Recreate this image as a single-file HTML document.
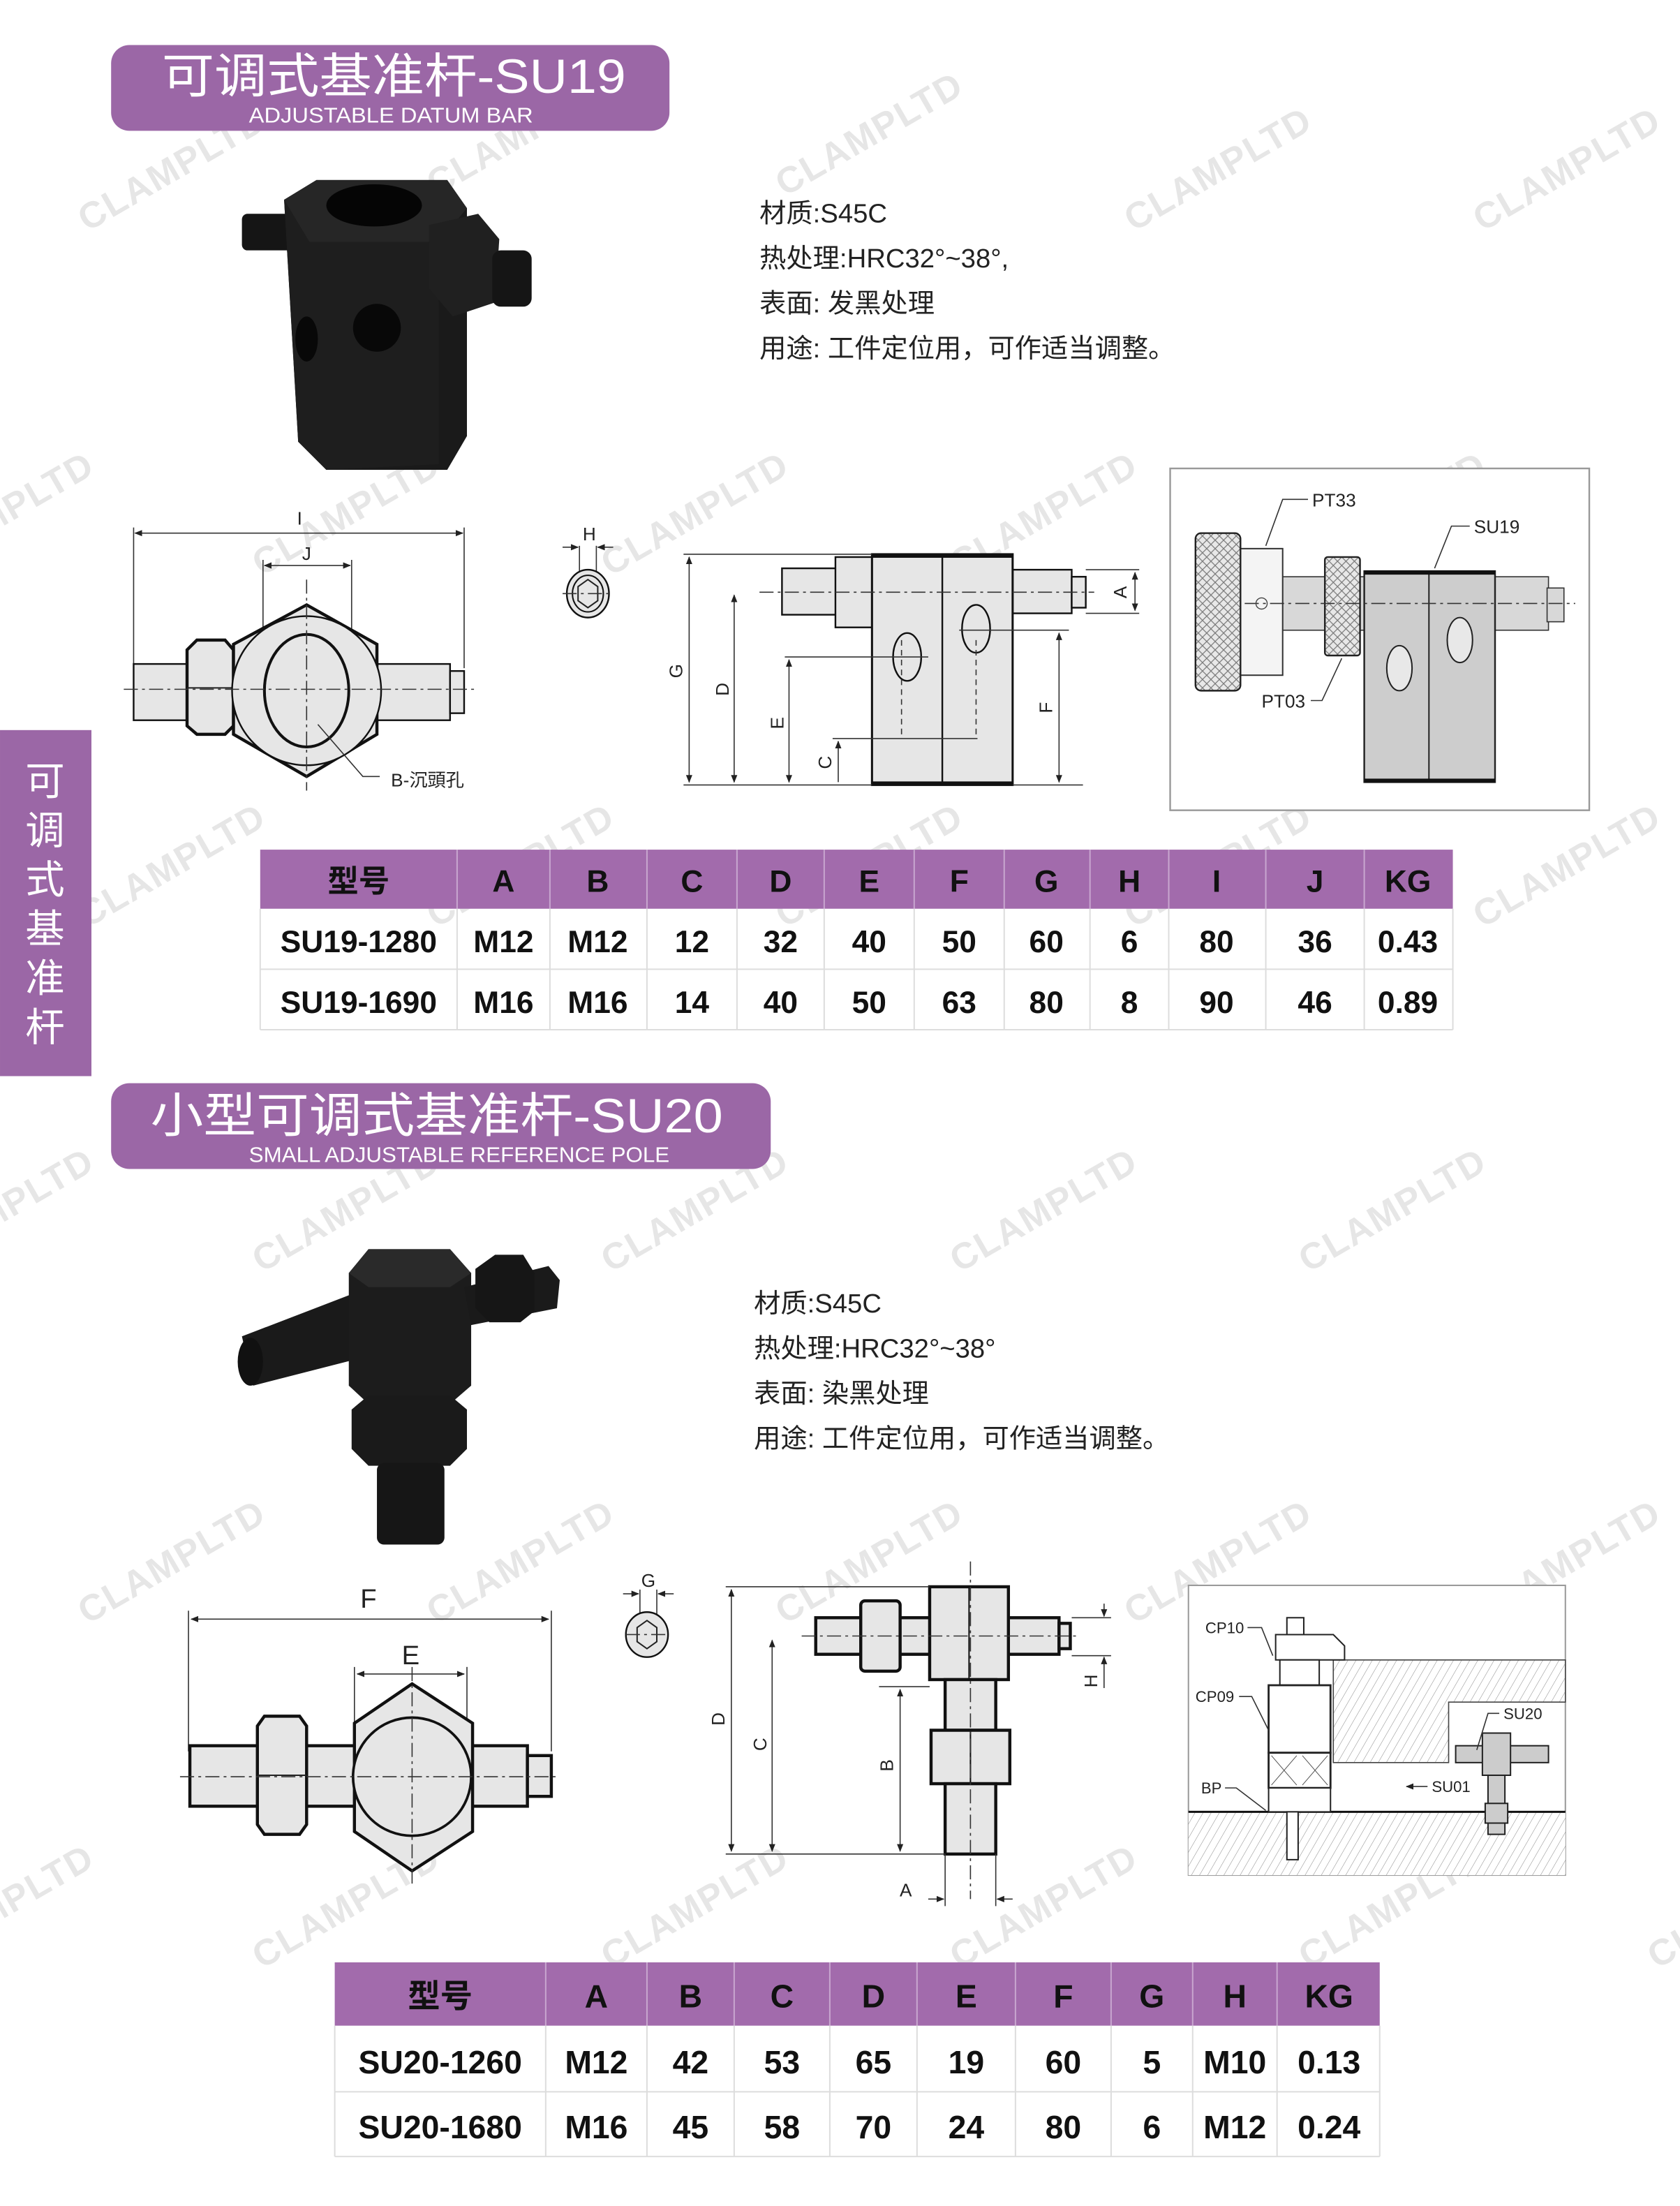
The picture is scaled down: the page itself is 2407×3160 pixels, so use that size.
<!DOCTYPE html>
<html><head><meta charset="utf-8"><style>
html,body{margin:0;padding:0;background:#fff}
svg{display:block}
text{font-family:"Liberation Sans","Noto Sans CJK SC",sans-serif}
.cn{font-family:"Liberation Sans","Noto Sans CJK SC",sans-serif}
.tb{font-family:"Liberation Sans Narrow","Liberation Sans","Noto Sans CJK SC",sans-serif;font-weight:bold}
.wm{font-family:"Liberation Sans",sans-serif;font-weight:bold;font-size:26px;fill:#e6e6e6;letter-spacing:1px}
.ln{stroke:#222;stroke-width:1;fill:none}
.th{stroke:#111;stroke-width:2.2;fill:#e6e6e6}
.pt{stroke:#111;stroke-width:1.2;fill:#e6e6e6}
.cl{stroke:#333;stroke-width:0.8;stroke-dasharray:10 3 2 3;fill:none}
.dm{stroke:#333;stroke-width:0.8;fill:none}
.lb{font-size:13px;fill:#222}
</style></head><body>
<svg width="2407" height="3160" viewBox="0 0 1194.5 1568.2" xmlns="http://www.w3.org/2000/svg">
<defs>
<marker id="ar" viewBox="0 0 10 10" refX="9" refY="5" markerWidth="7" markerHeight="7" orient="auto-start-reverse"><path d="M0,1 L10,5 L0,9 z" fill="#222"/></marker>
<pattern id="knurl" width="6" height="6" patternUnits="userSpaceOnUse"><rect width="6" height="6" fill="#e8e8e8"/><path d="M0,0 L6,6 M6,0 L0,6" stroke="#777" stroke-width="0.6"/></pattern>
<pattern id="hatch" width="5" height="5" patternUnits="userSpaceOnUse" patternTransform="rotate(30)"><rect width="5" height="5" fill="#fff"/><line x1="0" y1="0" x2="0" y2="5" stroke="#888" stroke-width="0.5"/></pattern>
</defs>

<!-- watermarks -->
<g class="wm">
<text transform="translate(62,165) rotate(-30)">CLAMPLTD</text>
<text transform="translate(310,140) rotate(-30)">CLAMPLTD</text>
<text transform="translate(558,140) rotate(-30)">CLAMPLTD</text>
<text transform="translate(806,165) rotate(-30)">CLAMPLTD</text>
<text transform="translate(1054,165) rotate(-30)">CLAMPLTD</text>
<text transform="translate(-60,410) rotate(-30)">CLAMPLTD</text>
<text transform="translate(186,410) rotate(-30)">CLAMPLTD</text>
<text transform="translate(434,410) rotate(-30)">CLAMPLTD</text>
<text transform="translate(682,410) rotate(-30)">CLAMPLTD</text>
<text transform="translate(930,410) rotate(-30)">CLAMPLTD</text>
<text transform="translate(62,660) rotate(-30)">CLAMPLTD</text>
<text transform="translate(310,660) rotate(-30)">CLAMPLTD</text>
<text transform="translate(558,660) rotate(-30)">CLAMPLTD</text>
<text transform="translate(806,660) rotate(-30)">CLAMPLTD</text>
<text transform="translate(1054,660) rotate(-30)">CLAMPLTD</text>
<text transform="translate(-60,905) rotate(-30)">CLAMPLTD</text>
<text transform="translate(186,905) rotate(-30)">CLAMPLTD</text>
<text transform="translate(434,905) rotate(-30)">CLAMPLTD</text>
<text transform="translate(682,905) rotate(-30)">CLAMPLTD</text>
<text transform="translate(930,905) rotate(-30)">CLAMPLTD</text>
<text transform="translate(62,1155) rotate(-30)">CLAMPLTD</text>
<text transform="translate(310,1155) rotate(-30)">CLAMPLTD</text>
<text transform="translate(558,1155) rotate(-30)">CLAMPLTD</text>
<text transform="translate(806,1155) rotate(-30)">CLAMPLTD</text>
<text transform="translate(1054,1155) rotate(-30)">CLAMPLTD</text>
<text transform="translate(-60,1400) rotate(-30)">CLAMPLTD</text>
<text transform="translate(186,1400) rotate(-30)">CLAMPLTD</text>
<text transform="translate(434,1400) rotate(-30)">CLAMPLTD</text>
<text transform="translate(682,1400) rotate(-30)">CLAMPLTD</text>
<text transform="translate(930,1400) rotate(-30)">CLAMPLTD</text>
<text transform="translate(1178,1400) rotate(-30)">CLAMPLTD</text>
</g>

<!-- Header 1 -->
<rect x="79" y="32" width="397" height="61" rx="13" fill="#9b67a6"/>
<text x="115" y="66" fill="#fff" font-size="34" class="cn" textLength="330" lengthAdjust="spacingAndGlyphs">可调式基准杆-SU19</text>
<text x="177" y="87" fill="#fff" font-size="15" textLength="202" lengthAdjust="spacingAndGlyphs">ADJUSTABLE DATUM BAR</text>

<!-- Side tab -->
<rect x="0" y="519" width="65" height="246" fill="#9b67a6"/>
<g fill="#fff" font-size="28" text-anchor="middle" class="cn">
<text x="32" y="565">可</text><text x="32" y="600">调</text><text x="32" y="635">式</text>
<text x="32" y="670">基</text><text x="32" y="705">准</text><text x="32" y="740">杆</text>
</g>

<!-- Photo 1 -->
<g>
<rect x="172" y="152" width="36" height="26" rx="4" fill="#151515"/>
<polygon points="202,142 225,128 318,128 332,148 332,310 318,334 232,334 212,314" fill="#1a1a1a"/>
<polygon points="202,142 225,128 318,128 332,148 312,172 220,172" fill="#262626"/>
<polygon points="220,172 312,172 312,330 232,334 212,314 202,142" fill="#1e1e1e"/>
<ellipse cx="266" cy="146" rx="34" ry="15" fill="#050505"/>
<polygon points="305,160 340,152 355,170 352,215 322,225 305,205" fill="#202020"/>
<rect x="350" y="178" width="28" height="40" rx="6" fill="#151515"/>
<ellipse cx="268" cy="233" rx="17" ry="17" fill="#080808"/>
<ellipse cx="218" cy="241" rx="8" ry="16" fill="#080808"/>
</g>

<!-- Spec text 1 -->
<g font-size="19" fill="#222" class="cn">
<text x="540" y="158">材质:S45C</text>
<text x="540" y="190">热处理:HRC32°~38°,</text>
<text x="540" y="222">表面:  发黑处理</text>
<text x="540" y="254">用途:  工件定位用，可作适当调整。</text>
</g>

<!-- Drawing 1 front -->
<g>
<line class="dm" x1="95" y1="375" x2="95" y2="475"/>
<line class="dm" x1="330" y1="375" x2="330" y2="475"/>
<line class="dm" x1="96" y1="379" x2="329" y2="379" marker-start="url(#ar)" marker-end="url(#ar)"/>
<text x="213" y="373" class="lb" text-anchor="middle">I</text>
<line class="dm" x1="187" y1="398" x2="187" y2="460"/>
<line class="dm" x1="250" y1="398" x2="250" y2="460"/>
<line class="dm" x1="188" y1="402" x2="249" y2="402" marker-start="url(#ar)" marker-end="url(#ar)"/>
<text x="218" y="398" class="lb" text-anchor="middle">J</text>
<rect class="pt" x="95" y="472" width="225" height="40"/>
<rect class="pt" x="320" y="477" width="10" height="30"/>
<polygon class="th" points="133,462 140,455 160,455 166,462 166,516 160,522 140,522 133,516"/>
<line class="ln" x1="133" y1="489" x2="166" y2="489"/>
<polygon class="th" points="218,430 268,458 268,522 218,552 166,522 166,458"/>
<circle cx="218" cy="491" r="53" class="pt" fill="#e6e6e6"/>
<ellipse cx="218" cy="491" rx="30" ry="40" fill="#e6e6e6" stroke="#111" stroke-width="2"/>
<line class="cl" x1="88" y1="490" x2="340" y2="490"/>
<line class="cl" x1="218" y1="412" x2="218" y2="562"/>
<polyline class="dm" points="226,515 258,552 270,552"/>
<text x="278" y="559" font-size="13" fill="#222" class="cn">B-沉頭孔</text>
</g>

<!-- H small view -->
<g>
<line class="dm" x1="412" y1="388" x2="412" y2="430"/>
<line class="dm" x1="424" y1="388" x2="424" y2="430"/>
<line class="dm" x1="400" y1="389" x2="411" y2="389" marker-end="url(#ar)"/>
<line class="dm" x1="436" y1="389" x2="425" y2="389" marker-end="url(#ar)"/>
<text x="419" y="384" class="lb" text-anchor="middle">H</text>
<ellipse cx="418" cy="422" rx="15" ry="17" class="pt" stroke-width="1.5"/>
<ellipse cx="418" cy="422" rx="11" ry="13" fill="none" stroke="#111"/>
<polygon class="ln" points="418,412 425,417 425,427 418,432 411,427 411,417"/>
<line class="cl" x1="400" y1="422" x2="436" y2="422"/>
</g>

<!-- Side view 1 -->
<g>
<rect class="pt" x="556" y="404" width="40" height="33"/>
<rect class="pt" x="594" y="396" width="28" height="50"/>
<rect class="pt" x="720" y="405" width="42" height="31"/>
<rect class="pt" x="762" y="410" width="10" height="22"/>
<rect x="620" y="394" width="100" height="164" fill="#e6e6e6" stroke="#111" stroke-width="1.5"/>
<line x1="670" y1="394" x2="670" y2="558" stroke="#111" stroke-width="1.2"/>
<line x1="620" y1="395" x2="720" y2="395" stroke="#111" stroke-width="3"/>
<line x1="620" y1="557" x2="720" y2="557" stroke="#111" stroke-width="3"/>
<ellipse cx="645" cy="467" rx="10" ry="17" class="pt"/>
<ellipse cx="694" cy="447" rx="10" ry="17" class="pt"/>
<line class="cl" x1="540" y1="421" x2="778" y2="421"/>
<line class="dm" x1="486" y1="394" x2="620" y2="394"/>
<line class="dm" x1="486" y1="558" x2="620" y2="558"/>
<line class="dm" x1="720" y1="558" x2="770" y2="558"/>
<line class="dm" x1="490" y1="396" x2="490" y2="556" marker-start="url(#ar)" marker-end="url(#ar)"/>
<text transform="translate(485,477) rotate(-90)" class="lb" text-anchor="middle">G</text>
<line class="dm" x1="522" y1="423" x2="522" y2="556" marker-start="url(#ar)" marker-end="url(#ar)"/>
<text transform="translate(518,490) rotate(-90)" class="lb" text-anchor="middle">D</text>
<line class="dm" x1="558" y1="467" x2="660" y2="467"/>
<line class="dm" x1="561" y1="469" x2="561" y2="556" marker-start="url(#ar)" marker-end="url(#ar)"/>
<text transform="translate(557,514) rotate(-90)" class="lb" text-anchor="middle">E</text>
<line class="dm" x1="592" y1="525" x2="695" y2="525"/>
<line class="dm" x1="596" y1="527" x2="596" y2="556" marker-start="url(#ar)"/>
<text transform="translate(591,542) rotate(-90)" class="lb" text-anchor="middle">C</text>
<line class="dm" x1="682" y1="448" x2="760" y2="448"/>
<line class="dm" x1="753" y1="450" x2="753" y2="556" marker-start="url(#ar)" marker-end="url(#ar)"/>
<text transform="translate(748,503) rotate(-90)" class="lb" text-anchor="middle">F</text>
<line class="dm" x1="772" y1="405" x2="810" y2="405"/>
<line class="dm" x1="772" y1="436" x2="810" y2="436"/>
<line class="dm" x1="807" y1="407" x2="807" y2="434" marker-start="url(#ar)" marker-end="url(#ar)"/>
<text transform="translate(801,421) rotate(-90)" class="lb" text-anchor="middle">A</text>
<line class="dm" x1="641" y1="455" x2="641" y2="525" stroke-dasharray="4 3"/>
<line class="dm" x1="694" y1="455" x2="694" y2="525" stroke-dasharray="4 3"/>
</g>

<!-- Assembly 1 -->
<g>
<rect x="832" y="333" width="298" height="243" fill="#fff" stroke="#999" stroke-width="1.2"/>
<rect x="911" y="410" width="190" height="38" fill="#d8d8d8" stroke="#333" stroke-width="0.8"/>
<rect x="1100" y="418" width="12" height="24" fill="#d8d8d8" stroke="#333" stroke-width="0.8"/>
<rect x="882" y="390" width="30" height="90" fill="#f4f4f4" stroke="#333" stroke-width="1"/>
<rect x="850" y="379" width="32" height="112" rx="4" fill="url(#knurl)" stroke="#222" stroke-width="1.2"/>
<rect x="942" y="396" width="25" height="70" rx="2" fill="url(#knurl)" stroke="#222" stroke-width="1.2"/>
<rect x="970" y="406" width="93" height="150" fill="#cdcdcd" stroke="#222" stroke-width="1.2"/>
<line x1="1016" y1="406" x2="1016" y2="556" stroke="#222"/>
<line x1="970" y1="407" x2="1063" y2="407" stroke="#111" stroke-width="3"/>
<line x1="970" y1="555" x2="1063" y2="555" stroke="#111" stroke-width="3"/>
<ellipse cx="995" cy="475" rx="9" ry="16" fill="#e8e8e8" stroke="#222"/>
<ellipse cx="1038" cy="455" rx="9" ry="16" fill="#e8e8e8" stroke="#222"/>
<line class="cl" x1="885" y1="429" x2="1120" y2="429"/>
<circle cx="897" cy="429" r="4" fill="none" stroke="#444" stroke-width="0.7"/>
<polyline class="dm" points="930,355 912,355 900,388"/>
<text x="933" y="360" class="lb" font-size="12">PT33</text>
<polyline class="dm" points="1045,374 1032,374 1020,404"/>
<text x="1048" y="379" class="lb" font-size="12">SU19</text>
<polyline class="dm" points="932,498 940,498 954,468"/>
<text x="897" y="503" class="lb" font-size="12">PT03</text>
</g>

<!-- Table 1 -->
<g>
<rect x="185" y="604" width="848" height="42" fill="#a26bac"/>
<g stroke="#ddd" stroke-width="1">
<line x1="185" y1="689" x2="1033" y2="689"/><line x1="185" y1="732" x2="1033" y2="732"/>
<line x1="185" y1="646" x2="185" y2="732"/><line x1="1033" y1="646" x2="1033" y2="732"/>
</g>
<g stroke="#c8a6cf" stroke-width="1">
<line x1="325" y1="604" x2="325" y2="646"/><line x1="391" y1="604" x2="391" y2="646"/><line x1="460" y1="604" x2="460" y2="646"/><line x1="524" y1="604" x2="524" y2="646"/><line x1="586" y1="604" x2="586" y2="646"/><line x1="650" y1="604" x2="650" y2="646"/><line x1="714" y1="604" x2="714" y2="646"/><line x1="775" y1="604" x2="775" y2="646"/><line x1="831" y1="604" x2="831" y2="646"/><line x1="900" y1="604" x2="900" y2="646"/><line x1="970" y1="604" x2="970" y2="646"/>
</g>
<g stroke="#ddd" stroke-width="1">
<line x1="325" y1="646" x2="325" y2="732"/><line x1="391" y1="646" x2="391" y2="732"/><line x1="460" y1="646" x2="460" y2="732"/><line x1="524" y1="646" x2="524" y2="732"/><line x1="586" y1="646" x2="586" y2="732"/><line x1="650" y1="646" x2="650" y2="732"/><line x1="714" y1="646" x2="714" y2="732"/><line x1="775" y1="646" x2="775" y2="732"/><line x1="831" y1="646" x2="831" y2="732"/><line x1="900" y1="646" x2="900" y2="732"/><line x1="970" y1="646" x2="970" y2="732"/>
</g>
<g class="tb" font-size="22" fill="#111" text-anchor="middle">
<text x="255" y="634">型号</text><text x="358" y="634">A</text><text x="425" y="634">B</text><text x="492" y="634">C</text><text x="555" y="634">D</text><text x="618" y="634">E</text><text x="682" y="634">F</text><text x="744" y="634">G</text><text x="803" y="634">H</text><text x="865" y="634">I</text><text x="935" y="634">J</text><text x="1001" y="634">KG</text>
<text x="255" y="677">SU19-1280</text><text x="358" y="677">M12</text><text x="425" y="677">M12</text><text x="492" y="677">12</text><text x="555" y="677">32</text><text x="618" y="677">40</text><text x="682" y="677">50</text><text x="744" y="677">60</text><text x="803" y="677">6</text><text x="865" y="677">80</text><text x="935" y="677">36</text><text x="1001" y="677">0.43</text>
<text x="255" y="720">SU19-1690</text><text x="358" y="720">M16</text><text x="425" y="720">M16</text><text x="492" y="720">14</text><text x="555" y="720">40</text><text x="618" y="720">50</text><text x="682" y="720">63</text><text x="744" y="720">80</text><text x="803" y="720">8</text><text x="865" y="720">90</text><text x="935" y="720">46</text><text x="1001" y="720">0.89</text>
</g>
</g>

<!-- Header 2 -->
<rect x="79" y="770" width="469" height="61" rx="13" fill="#9b67a6"/>
<text x="107" y="805" fill="#fff" font-size="34" class="cn" textLength="407" lengthAdjust="spacingAndGlyphs">小型可调式基准杆-SU20</text>
<text x="177" y="826" fill="#fff" font-size="15" textLength="299" lengthAdjust="spacingAndGlyphs">SMALL ADJUSTABLE REFERENCE POLE</text>

<!-- Photo 2 -->
<g>
<polygon points="172,950 250,920 258,965 180,985" fill="#1a1a1a"/>
<ellipse cx="178" cy="968" rx="9" ry="17" fill="#111"/>
<polygon points="248,905 262,888 320,888 335,905 335,985 320,998 262,998 248,985" fill="#1c1c1c"/>
<polygon points="248,905 262,888 320,888 335,905 320,915 262,915" fill="#2a2a2a"/>
<polygon points="330,915 390,900 398,910 396,930 335,942" fill="#1a1a1a"/>
<polygon points="338,902 352,892 372,892 380,905 380,932 370,940 348,940 338,930" fill="#161616"/>
<polygon points="250,1002 262,992 320,992 332,1002 332,1030 320,1042 262,1042 250,1030" fill="#1a1a1a"/>
<rect x="268" y="1040" width="48" height="58" rx="5" fill="#161616"/>
</g>

<!-- Spec text 2 -->
<g font-size="19" fill="#222" class="cn">
<text x="536" y="933">材质:S45C</text>
<text x="536" y="965">热处理:HRC32°~38°</text>
<text x="536" y="997">表面:  染黑处理</text>
<text x="536" y="1029">用途:  工件定位用，可作适当调整。</text>
</g>

<!-- Drawing 2 front -->
<g>
<line class="dm" x1="134" y1="1145" x2="134" y2="1245"/>
<line class="dm" x1="392" y1="1145" x2="392" y2="1245"/>
<line class="dm" x1="136" y1="1151" x2="390" y2="1151" marker-start="url(#ar)" marker-end="url(#ar)"/>
<text x="262" y="1143" font-size="19" fill="#222" text-anchor="middle">F</text>
<line class="dm" x1="252" y1="1185" x2="252" y2="1230"/>
<line class="dm" x1="332" y1="1185" x2="332" y2="1230"/>
<line class="dm" x1="254" y1="1190" x2="330" y2="1190" marker-start="url(#ar)" marker-end="url(#ar)"/>
<text x="292" y="1183" font-size="19" fill="#222" text-anchor="middle">E</text>
<rect class="th" x="135" y="1241" width="240" height="43" stroke-width="1.8"/>
<rect class="th" x="375" y="1248" width="17" height="29" stroke-width="1.8"/>
<polygon class="th" points="183,1227 188,1220 213,1220 218,1227 218,1297 213,1304 188,1304 183,1297"/>
<line class="ln" x1="183" y1="1262" x2="218" y2="1262"/>
<polygon class="th" points="293,1197 336,1225 336,1302 293,1330 252,1302 252,1225"/>
<circle cx="293" cy="1263" r="42" fill="#e6e6e6" stroke="#111" stroke-width="1.8"/>
<line class="cl" x1="128" y1="1263" x2="398" y2="1263"/>
<line class="cl" x1="293" y1="1185" x2="293" y2="1340"/>
</g>

<!-- G small view -->
<g>
<line class="dm" x1="455" y1="1130" x2="455" y2="1160"/>
<line class="dm" x1="467" y1="1130" x2="467" y2="1160"/>
<line class="dm" x1="443" y1="1133" x2="454" y2="1133" marker-end="url(#ar)"/>
<line class="dm" x1="479" y1="1133" x2="468" y2="1133" marker-end="url(#ar)"/>
<text x="461" y="1128" class="lb" text-anchor="middle">G</text>
<ellipse cx="460" cy="1162" rx="15" ry="16" class="pt" stroke-width="1.5"/>
<polygon class="ln" points="460,1152 467,1157 467,1167 460,1172 453,1167 453,1157"/>
<line class="cl" x1="445" y1="1162" x2="476" y2="1162"/>
</g>

<!-- Side view 2 -->
<g>
<rect class="th" x="580" y="1150" width="173" height="26" stroke-width="1.6"/>
<rect class="th" x="753" y="1154" width="8" height="18" stroke-width="1.4"/>
<rect class="th" x="612" y="1138" width="28" height="50" rx="3" stroke-width="1.6"/>
<rect class="th" x="661" y="1128" width="56" height="66" stroke-width="1.8"/>
<line x1="689" y1="1128" x2="689" y2="1194" stroke="#111"/>
<rect class="th" x="672" y="1194" width="36" height="36" stroke-width="1.6"/>
<rect class="th" x="662" y="1230" width="56" height="38" stroke-width="1.8"/>
<line x1="690" y1="1230" x2="690" y2="1268" stroke="#111"/>
<rect class="th" x="672" y="1268" width="36" height="50" stroke-width="1.6"/>
<line class="cl" x1="570" y1="1163" x2="766" y2="1163"/>
<line class="cl" x1="690" y1="1110" x2="690" y2="1350"/>
<line class="dm" x1="516" y1="1128" x2="661" y2="1128"/>
<line class="dm" x1="516" y1="1318" x2="672" y2="1318"/>
<line class="dm" x1="520" y1="1130" x2="520" y2="1316" marker-start="url(#ar)" marker-end="url(#ar)"/>
<text transform="translate(515,1222) rotate(-90)" class="lb" text-anchor="middle">D</text>
<line class="dm" x1="549" y1="1166" x2="549" y2="1316" marker-start="url(#ar)" marker-end="url(#ar)"/>
<text transform="translate(545,1240) rotate(-90)" class="lb" text-anchor="middle">C</text>
<line class="dm" x1="625" y1="1199" x2="661" y2="1199"/>
<line class="dm" x1="640" y1="1201" x2="640" y2="1316" marker-start="url(#ar)" marker-end="url(#ar)"/>
<text transform="translate(635,1255) rotate(-90)" class="lb" text-anchor="middle">B</text>
<line class="dm" x1="762" y1="1150" x2="790" y2="1150"/>
<line class="dm" x1="762" y1="1177" x2="790" y2="1177"/>
<line class="dm" x1="785" y1="1140" x2="785" y2="1149" marker-end="url(#ar)"/>
<line class="dm" x1="785" y1="1200" x2="785" y2="1178" marker-end="url(#ar)"/>
<text transform="translate(780,1195) rotate(-90)" class="lb" text-anchor="middle">H</text>
<line class="dm" x1="672" y1="1318" x2="672" y2="1355"/>
<line class="dm" x1="708" y1="1318" x2="708" y2="1355"/>
<line class="dm" x1="660" y1="1350" x2="671" y2="1350" marker-end="url(#ar)"/>
<line class="dm" x1="720" y1="1350" x2="709" y2="1350" marker-end="url(#ar)"/>
<text x="644" y="1348" class="lb" text-anchor="middle">A</text>
</g>

<!-- Assembly 2 -->
<g>
<rect x="845" y="1127" width="268" height="206" fill="#fff" stroke="#999" stroke-width="1"/>
<polygon points="948,1180 1113,1180 1113,1210 1030,1210 1030,1253 948,1253" fill="url(#hatch)" stroke="#444" stroke-width="0.8"/>
<rect x="845" y="1288" width="268" height="45" fill="url(#hatch)"/>
<line x1="845" y1="1288" x2="1113" y2="1288" stroke="#111" stroke-width="1.5"/>
<rect x="915" y="1150" width="12" height="15" fill="#fff" stroke="#222"/>
<polygon points="907,1162 948,1162 956,1170 956,1180 940,1180 907,1180" fill="#fff" stroke="#222"/>
<rect x="910" y="1180" width="28" height="18" fill="#fff" stroke="#222"/>
<rect x="902" y="1198" width="44" height="48" fill="#fff" stroke="#222" stroke-width="1.4"/>
<rect x="902" y="1246" width="44" height="25" fill="#fff" stroke="#222" stroke-width="1.4"/>
<path d="M904,1248 L922,1269 M922,1248 L904,1269 M926,1248 L944,1269 M944,1248 L926,1269" stroke="#555" stroke-width="0.5"/>
<rect x="902" y="1271" width="44" height="17" fill="#fff" stroke="#222"/>
<rect x="915" y="1288" width="8" height="34" fill="#fff" stroke="#222"/>
<rect x="1035" y="1241" width="66" height="12" fill="#ccc" stroke="#222"/>
<rect x="1054" y="1232" width="20" height="30" fill="#ccc" stroke="#222"/>
<rect x="1058" y="1262" width="12" height="42" fill="#ccc" stroke="#222"/>
<rect x="1056" y="1282" width="16" height="14" fill="#ccc" stroke="#222"/>
<polyline class="dm" points="887,1157 897,1157 905,1177"/>
<text x="857" y="1161" font-size="11" fill="#222">CP10</text>
<polyline class="dm" points="881,1206 890,1206 902,1230"/>
<text x="850" y="1210" font-size="11" fill="#222">CP09</text>
<polyline class="dm" points="871,1271 879,1271 900,1287"/>
<text x="854" y="1275" font-size="11" fill="#222">BP</text>
<polyline class="dm" points="1066,1218 1058,1218 1050,1244"/>
<text x="1069" y="1222" font-size="11" fill="#222">SU20</text>
<line class="dm" x1="1015" y1="1270" x2="1000" y2="1270" marker-end="url(#ar)"/>
<text x="1018" y="1274" font-size="11" fill="#222">SU01</text>
</g>

<!-- Table 2 -->
<g>
<rect x="238" y="1395" width="743" height="45" fill="#a26bac"/>
<g stroke="#ddd" stroke-width="1">
<line x1="238" y1="1487" x2="981" y2="1487"/><line x1="238" y1="1533" x2="981" y2="1533"/>
<line x1="238" y1="1440" x2="238" y2="1533"/><line x1="981" y1="1440" x2="981" y2="1533"/>
<line x1="388" y1="1440" x2="388" y2="1533"/><line x1="460" y1="1440" x2="460" y2="1533"/><line x1="522" y1="1440" x2="522" y2="1533"/><line x1="590" y1="1440" x2="590" y2="1533"/><line x1="652" y1="1440" x2="652" y2="1533"/><line x1="722" y1="1440" x2="722" y2="1533"/><line x1="790" y1="1440" x2="790" y2="1533"/><line x1="848" y1="1440" x2="848" y2="1533"/><line x1="908" y1="1440" x2="908" y2="1533"/>
</g>
<g stroke="#c8a6cf" stroke-width="1">
<line x1="388" y1="1395" x2="388" y2="1440"/><line x1="460" y1="1395" x2="460" y2="1440"/><line x1="522" y1="1395" x2="522" y2="1440"/><line x1="590" y1="1395" x2="590" y2="1440"/><line x1="652" y1="1395" x2="652" y2="1440"/><line x1="722" y1="1395" x2="722" y2="1440"/><line x1="790" y1="1395" x2="790" y2="1440"/><line x1="848" y1="1395" x2="848" y2="1440"/><line x1="908" y1="1395" x2="908" y2="1440"/>
</g>
<g class="tb" font-size="23" fill="#111" text-anchor="middle">
<text x="313" y="1427">型号</text><text x="424" y="1427">A</text><text x="491" y="1427">B</text><text x="556" y="1427">C</text><text x="621" y="1427">D</text><text x="687" y="1427">E</text><text x="756" y="1427">F</text><text x="819" y="1427">G</text><text x="878" y="1427">H</text><text x="945" y="1427">KG</text>
<text x="313" y="1474">SU20-1260</text><text x="424" y="1474">M12</text><text x="491" y="1474">42</text><text x="556" y="1474">53</text><text x="621" y="1474">65</text><text x="687" y="1474">19</text><text x="756" y="1474">60</text><text x="819" y="1474">5</text><text x="878" y="1474">M10</text><text x="945" y="1474">0.13</text>
<text x="313" y="1520">SU20-1680</text><text x="424" y="1520">M16</text><text x="491" y="1520">45</text><text x="556" y="1520">58</text><text x="621" y="1520">70</text><text x="687" y="1520">24</text><text x="756" y="1520">80</text><text x="819" y="1520">6</text><text x="878" y="1520">M12</text><text x="945" y="1520">0.24</text>
</g>
</g>
</svg>
</body></html>
